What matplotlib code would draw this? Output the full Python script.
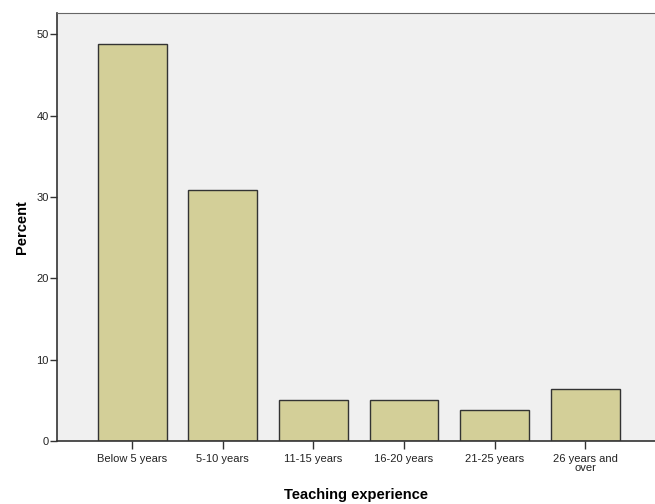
import matplotlib
matplotlib.use("Agg")
import matplotlib.pyplot as plt

plt.rcParams['font.family'] = ['Liberation Sans', 'DejaVu Sans']

categories = ["Below 5 years", "5-10 years", "11-15 years", "16-20 years",
              "21-25 years", "26 years and\nover"]
percent = [48.8, 30.8, 5.0, 5.0, 3.8, 6.4]

fig = plt.figure(figsize=(6.55, 5.04), dpi=100)
ax = fig.add_axes([0.087, 0.125, 0.913, 0.849])
ax.set_facecolor("#f0f0f0")

x = list(range(len(categories)))
ax.bar(x, percent, width=0.76, color="#d3cf98", edgecolor="#333333", linewidth=1.0, zorder=2)

ax.set_xlim(-0.83, 5.77)
ax.set_ylim(0, 52.6)
ax.set_yticks([0, 10, 20, 30, 40, 50])
ax.set_xticks(x)
ax.set_xticklabels(categories, fontsize=8, linespacing=0.9, color="#222222")
ax.tick_params(axis='y', labelsize=8, length=5, width=1, color="#333333", pad=1, labelcolor="#222222")
ax.tick_params(axis='x', length=6, width=1, color="#333333", pad=3)

for side in ["left", "bottom"]:
    ax.spines[side].set_color("#333333")
    ax.spines[side].set_linewidth(1.2)
ax.spines["top"].set_color("#666666")
ax.spines["right"].set_visible(False)

ax.set_xlabel("Teaching experience", fontsize=10.5, fontweight="bold", labelpad=11)
ax.set_ylabel("Percent", fontsize=10.5, fontweight="bold", labelpad=5)

fig.savefig("out.png", dpi=100)
